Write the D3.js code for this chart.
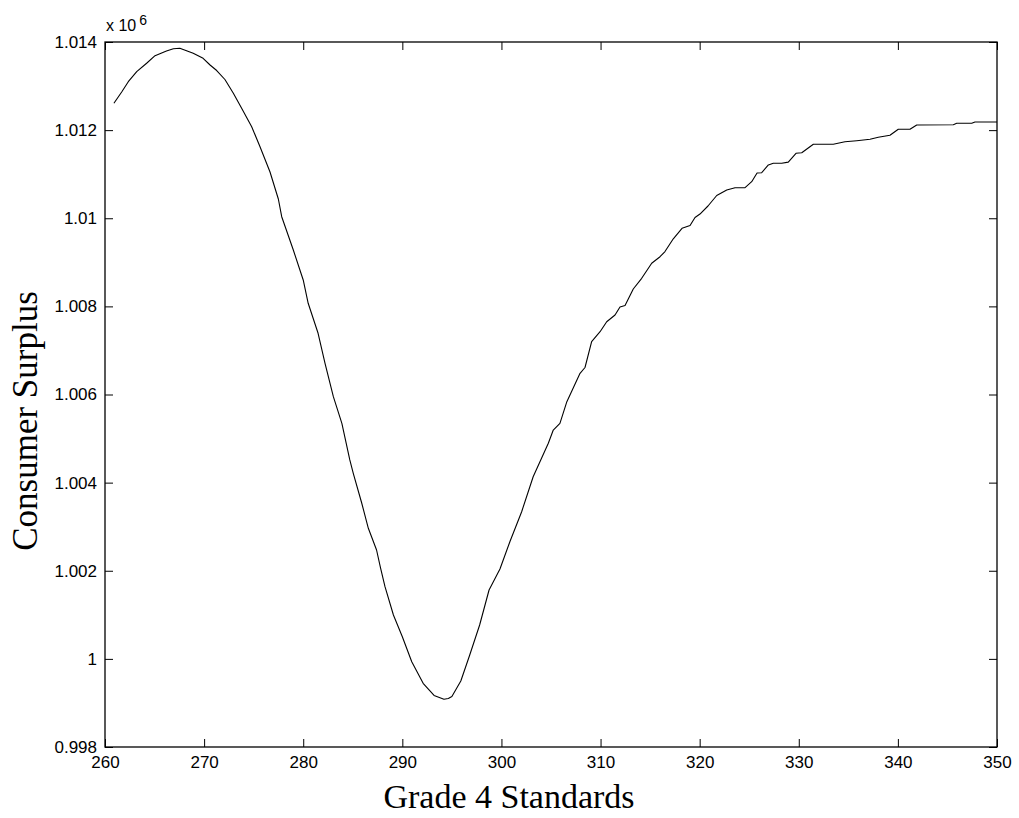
<!DOCTYPE html>
<html>
<head>
<meta charset="utf-8">
<script src="https://cdn.jsdelivr.net/npm/d3@7"></script>
<style>
  html, body { margin: 0; padding: 0; background: #fff; }
  svg { display: block; }
</style>
</head>
<body>
<svg id="chart" width="1019" height="818"></svg>
<script>
// ---- Data ----
const gradeStandards = [
  260.9, 261.7, 262.35, 263.2, 264.2, 265.05, 266.2, 266.9, 267.55, 268.9,
  269.9, 270.6, 271.27, 272.1, 272.95, 273.8, 274.8, 275.64, 276.65, 277.49,
  277.83, 279.0, 280.0, 280.5, 281.5, 282.2, 283.04, 283.9, 284.7, 285.05,
  285.9, 286.57, 287.4, 287.8, 288.25, 289.1, 290.0, 290.95, 292.1, 293.2,
  294.2, 294.64, 295.0, 295.9, 296.8, 297.8, 298.75, 299.85, 300.86, 302.04,
  303.2, 304.73, 305.23, 305.9, 306.6, 307.93, 308.43, 309.1, 309.95, 310.62,
  311.46, 311.96, 312.47, 313.3, 314.15, 315.16, 316.0, 316.5, 317.34, 318.22,
  319.03, 319.53, 320.03, 320.84, 321.72, 322.73, 323.57, 324.58, 325.25, 325.79,
  326.26, 326.93, 327.43, 328.28, 328.94, 329.72, 330.3, 331.47, 333.48, 334.66,
  335.85, 337.19, 338.02, 339.2, 340.04, 341.22, 341.9, 345.59, 345.94, 347.45,
  347.78, 350.0
];
const consumerSurplus = [
  1.012609, 1.012872, 1.013099, 1.013326, 1.013517, 1.013689, 1.013796, 1.013848, 1.013857, 1.013744,
  1.013630, 1.013478, 1.013353, 1.013149, 1.012836, 1.012491, 1.012078, 1.011624, 1.011050, 1.010437,
  1.010035, 1.009279, 1.008599, 1.008070, 1.007389, 1.006708, 1.005950, 1.005346, 1.004514, 1.004212,
  1.003538, 1.002963, 1.002471, 1.002063, 1.001638, 1.000996, 1.000503, 0.999936, 0.999446, 0.999169,
  0.999083, 0.999101, 0.999146, 0.999498, 1.000088, 1.000769, 1.001563, 1.002040, 1.002664, 1.003340,
  1.004134, 1.004893, 1.005194, 1.005346, 1.005837, 1.006481, 1.006613, 1.007198, 1.007425, 1.007652,
  1.007804, 1.007986, 1.008020, 1.008394, 1.008637, 1.008978, 1.009127, 1.009245, 1.009534, 1.009772,
  1.009835, 1.010017, 1.010096, 1.010278, 1.010516, 1.010641, 1.010693, 1.010693, 1.010830, 1.011027,
  1.011034, 1.011209, 1.011247, 1.011247, 1.011274, 1.011474, 1.011488, 1.011678, 1.011678, 1.011737,
  1.011760, 1.011792, 1.011837, 1.011883, 1.012019, 1.012019, 1.012116, 1.012123, 1.012155, 1.012155,
  1.012184, 1.012184
];
const xTicks = [260, 270, 280, 290, 300, 310, 320, 330, 340, 350];
const xTickLabels = ["260", "270", "280", "290", "300", "310", "320", "330", "340", "350"];
const yTicks = [0.998, 1.000, 1.002, 1.004, 1.006, 1.008, 1.010, 1.012, 1.014];
const yTickLabels = ["0.998", "1", "1.002", "1.004", "1.006", "1.008", "1.01", "1.012", "1.014"];
const xLabel = "Grade 4 Standards";
const yLabel = "Consumer Surplus";
const exponentBase = "x 10";
const exponentPower = "6";

// ---- Layout ----
const plot = { left: 105, right: 997, top: 42, bottom: 747 };
const tickLen = 8;
const tickFont = "'Liberation Sans', Arial, Helvetica, sans-serif";
const labelFont = "'Liberation Serif', 'Times New Roman', Times, serif";

const svg = d3.select("#chart");

const x = d3.scaleLinear().domain([260, 350]).range([plot.left, plot.right]);
const y = d3.scaleLinear().domain([0.998, 1.014]).range([plot.bottom, plot.top]);

// Axes with inward ticks (MATLAB style), on all four sides
const xAxisBottom = d3.axisBottom(x).tickValues(xTicks)
  .tickFormat((d, i) => xTickLabels[i]).tickSizeInner(-tickLen).tickSizeOuter(0).tickPadding(9);
const xAxisTop = d3.axisTop(x).tickValues(xTicks)
  .tickFormat("").tickSizeInner(-tickLen).tickSizeOuter(0);
const yAxisLeft = d3.axisLeft(y).tickValues(yTicks)
  .tickFormat((d, i) => yTickLabels[i]).tickSizeInner(-tickLen).tickSizeOuter(0).tickPadding(8);
const yAxisRight = d3.axisRight(y).tickValues(yTicks)
  .tickFormat("").tickSizeInner(-tickLen).tickSizeOuter(0);

function styleAxis(g) {
  g.select(".domain").remove();
  g.selectAll(".tick line").attr("stroke", "#000").attr("stroke-width", 1);
  g.selectAll(".tick text")
    .attr("fill", "#000")
    .style("font-family", tickFont)
    .style("font-size", "17px");
}

svg.append("g").attr("transform", `translate(0,${plot.bottom})`).call(xAxisBottom).call(styleAxis);
svg.append("g").attr("transform", `translate(0,${plot.top})`).call(xAxisTop).call(styleAxis);
svg.append("g").attr("transform", `translate(${plot.left},0)`).call(yAxisLeft).call(styleAxis);
svg.append("g").attr("transform", `translate(${plot.right},0)`).call(yAxisRight).call(styleAxis);

// Box
svg.append("rect")
  .attr("x", plot.left).attr("y", plot.top)
  .attr("width", plot.right - plot.left).attr("height", plot.bottom - plot.top)
  .attr("fill", "none").attr("stroke", "#000").attr("stroke-width", 1.3);

// Curve
const line = d3.line().x((d, i) => x(gradeStandards[i])).y(d => y(d));
svg.append("path")
  .datum(consumerSurplus)
  .attr("d", line)
  .attr("fill", "none")
  .attr("stroke", "#000")
  .attr("stroke-width", 1.1)
  .attr("stroke-linejoin", "round");

// Exponent label
const expText = svg.append("text")
  .attr("x", plot.left + 1).attr("y", 31)
  .style("font-family", tickFont).style("font-size", "16px").attr("fill", "#000");
expText.append("tspan").text(exponentBase);
expText.append("tspan").attr("dx", 3).attr("dy", -6).style("font-size", "14px").text(exponentPower);

// Axis labels
svg.append("text")
  .attr("x", 509).attr("y", 808)
  .attr("text-anchor", "middle")
  .style("font-family", labelFont).style("font-size", "34px").attr("fill", "#000")
  .text(xLabel);

svg.append("text")
  .attr("transform", "translate(37,421) rotate(-90)")
  .attr("text-anchor", "middle")
  .style("font-family", labelFont).style("font-size", "35px").attr("fill", "#000")
  .text(yLabel);
</script>
</body>
</html>
